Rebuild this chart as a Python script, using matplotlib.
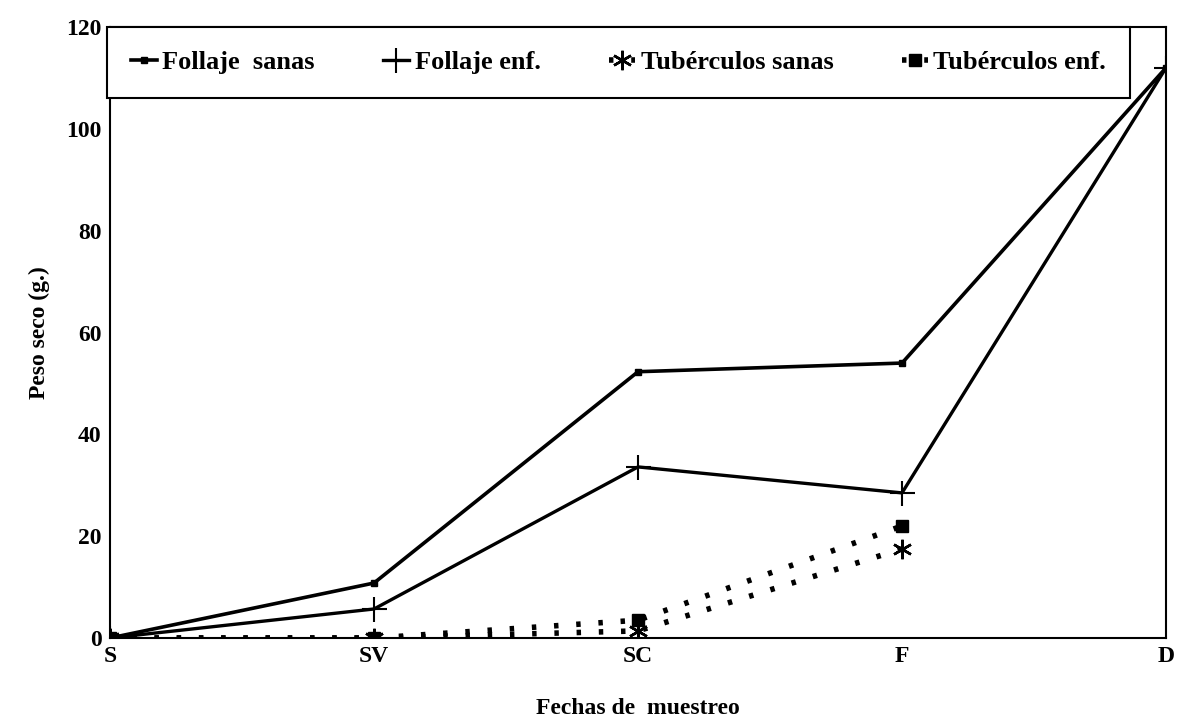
import matplotlib
matplotlib.use("Agg")
import matplotlib.pyplot as plt

categories = ["S", "SV", "SC", "F", "D"]
follaje_sanas = [0, 10.8, 52.3, 54, 112]
follaje_enf = [0, 5.7, 33.6, 28.5, 112]
tuberculos_sanas = [0, 0, 1.4, 17.5]
tuberculos_enf = [0, 0, 3.5, 22]

plt.rcParams['font.family'] = ['Liberation Serif', 'DejaVu Serif']
plt.rcParams['font.weight'] = 'bold'

fig = plt.figure(figsize=(11.79, 7.26), dpi=100)
ax = fig.add_axes([0.0933, 0.1212, 0.8957, 0.8416])

x = list(range(len(categories)))
ax.plot(x, follaje_sanas, color='black', lw=2.6, marker='s', ms=4, label='Follaje  sanas')
ax.plot(x, follaje_enf, color='black', lw=2.4, marker='+', ms=18, mew=1.5, label='Follaje enf.')
ax.plot(x[:4], tuberculos_sanas, color='black', lw=4, ls=(0, (0.8, 3.2)), marker=(6, 2, 0), ms=14, mew=1.8, label='Tubérculos sanas')
ax.plot(x[:4], tuberculos_enf, color='black', lw=4, ls=(0, (0.8, 3.2)), marker='s', ms=9, label='Tubérculos enf.')

ax.set_xlim(0, 4)
ax.set_ylim(0, 120)
ax.set_xticks(x)
ax.set_xticklabels(categories)
ax.set_yticks(range(0, 121, 20))
ax.tick_params(length=0, labelsize=17, pad=6)
for lab in ax.get_xticklabels() + ax.get_yticklabels():
    lab.set_fontweight('bold')
for s in ax.spines.values():
    s.set_linewidth(1.5)
ax.set_xlabel('Fechas de  muestreo', fontsize=17, fontweight='bold', labelpad=22)
ax.set_ylabel('Peso seco (g.)', fontsize=17, fontweight='bold', labelpad=12)

leg = ax.legend(loc='upper left', bbox_to_anchor=(-0.003, 1 - 71/611, 1023/1056, 71/611),
                mode='expand', ncol=4, frameon=True, fancybox=False, edgecolor='black',
                framealpha=1, borderaxespad=0, borderpad=0.9, handlelength=1.0,
                handletextpad=0.2, columnspacing=1.1,
                prop={'size': 19, 'weight': 'bold'})
leg.get_frame().set_linewidth(1.5)

fig.savefig('out.png', dpi=100)
